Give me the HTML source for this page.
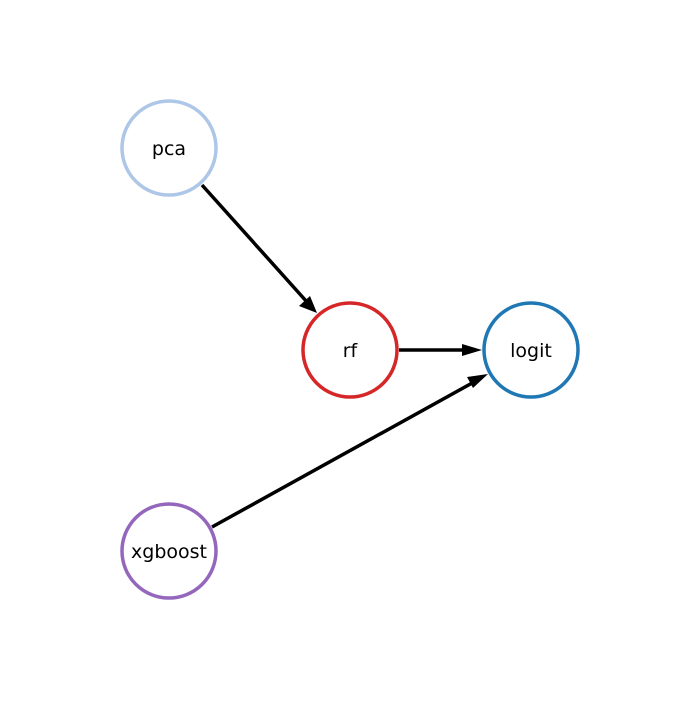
<!DOCTYPE html>
<html><head><style>html,body{margin:0;padding:0;background:#fff}</style></head>
<body>
<svg width="700" height="700" xmlns="http://www.w3.org/2000/svg">
<g fill="#fff" stroke-width="3.5">
<circle cx="169" cy="148" r="47" stroke="#aec7e8"/>
<circle cx="350" cy="350" r="47" stroke="#d62728"/>
<circle cx="531" cy="350" r="47" stroke="#1f77b4"/>
<circle cx="169" cy="551" r="47" stroke="#9467bd"/>
</g>
<g stroke="#000" stroke-width="3.5">
<line x1="202" y1="185" x2="307" y2="302"/>
<line x1="399" y1="350" x2="465" y2="350"/>
<line x1="212" y1="527" x2="474" y2="382"/>
</g>
<g fill="#000">
<polygon points="317,313 299,306 310,296"/>
<polygon points="482,350 462,344 462,356"/>
<polygon points="488,374 467,377 473,388"/>
</g>
<g font-family="DejaVu Sans, sans-serif" font-size="19" text-anchor="middle" fill="#000">
<text x="169" y="155">pca</text>
<text x="350" y="357">rf</text>
<text x="531" y="357">logit</text>
<text x="169" y="558">xgboost</text>
</g>
</svg>
</body></html>
